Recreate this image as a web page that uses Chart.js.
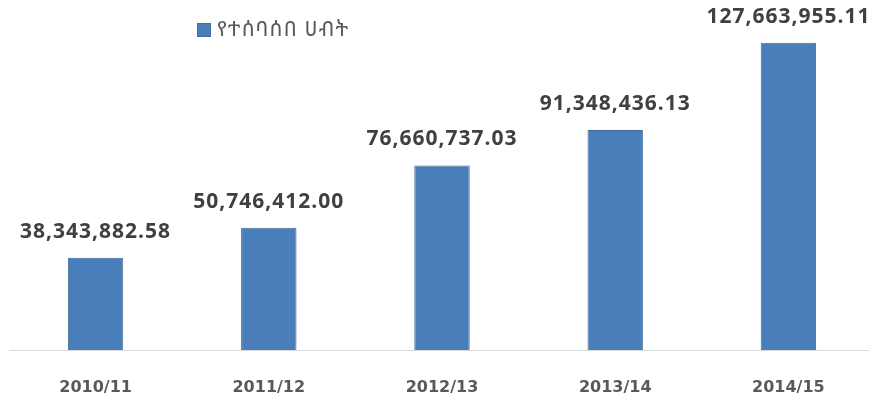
<!DOCTYPE html>
<html>
<head>
<meta charset="utf-8">
<script src="https://cdn.jsdelivr.net/npm/chart.js@4/dist/chart.umd.min.js"></script>
<style>
  html, body { margin: 0; padding: 0; background: #fff; overflow: hidden; }
  #wrap { width: 880px; height: 401px; }
</style>
</head>
<body>
<div id="wrap"><canvas id="chart" width="880" height="401"></canvas></div>
<script>
// data
var years = ['2010/11', '2011/12', '2012/13', '2013/14', '2014/15'];
var collected = [38343882.58, 50746412.00, 76660737.03, 91348436.13, 127663955.11];
var seriesName = 'የተሰባሰበ ሀብት';

var barFill = '#4a7ebb';
var barEdge = '#41709e';

function fmt(v) {
  return v.toLocaleString('en-US', { minimumFractionDigits: 2, maximumFractionDigits: 2 });
}

// value labels above the bars
var valueLabels = {
  id: 'valueLabels',
  afterDatasetsDraw: function(chart) {
    var ctx = chart.ctx;
    var meta = chart.getDatasetMeta(0);
    ctx.save();
    ctx.font = 'bold 21px "Open Sans"';
    ctx.letterSpacing = '1px';
    ctx.fillStyle = '#404040';
    ctx.textAlign = 'center';
    ctx.textBaseline = 'alphabetic';
    meta.data.forEach(function(bar, i) {
      ctx.fillText(fmt(chart.data.datasets[0].data[i]), bar.x, bar.y - 20);
    });
    ctx.restore();
  }
};

// legend sits inside the plot, left of centre
var sideLegend = {
  id: 'sideLegend',
  afterDraw: function(chart) {
    var ctx = chart.ctx;
    ctx.save();
    ctx.fillStyle = barFill;
    ctx.strokeStyle = barEdge;
    ctx.lineWidth = 1;
    ctx.fillRect(197, 23, 14, 14);
    ctx.strokeRect(197.5, 23.5, 13, 13);
    ctx.font = '21px "Noto Sans Ethiopic", "Abyssinica SIL", "DejaVu Sans", sans-serif';
    ctx.letterSpacing = '1.2px';
    ctx.fillStyle = '#595959';
    ctx.textBaseline = 'middle';
    ctx.fillText(chart.data.datasets[0].label, 217, 30);
    ctx.restore();
  }
};

new Chart(document.getElementById('chart'), {
  type: 'bar',
  data: {
    labels: years,
    datasets: [{
      label: seriesName,
      data: collected,
      backgroundColor: barFill,
      borderColor: barEdge,
      borderWidth: 1,
      categoryPercentage: 1,
      barPercentage: 0.32
    }]
  },
  options: {
    responsive: false,
    animation: false,
    layout: { padding: { left: 9, right: 5, top: 13, bottom: 4 } },
    plugins: {
      legend: { display: false },
      tooltip: { enabled: false }
    },
    scales: {
      x: {
        grid: { display: false, drawTicks: false },
        border: { display: true, color: '#d9d9d9', width: 1 },
        ticks: {
          color: '#595959',
          font: { family: 'DejaVu Sans', size: 16, weight: 'bold' },
          padding: 28
        },
        afterFit: function(scale) { scale.height = 47; }
      },
      y: {
        display: false,
        min: 0,
        max: 140000000
      }
    }
  },
  plugins: [valueLabels, sideLegend]
});
</script>
</body>
</html>
